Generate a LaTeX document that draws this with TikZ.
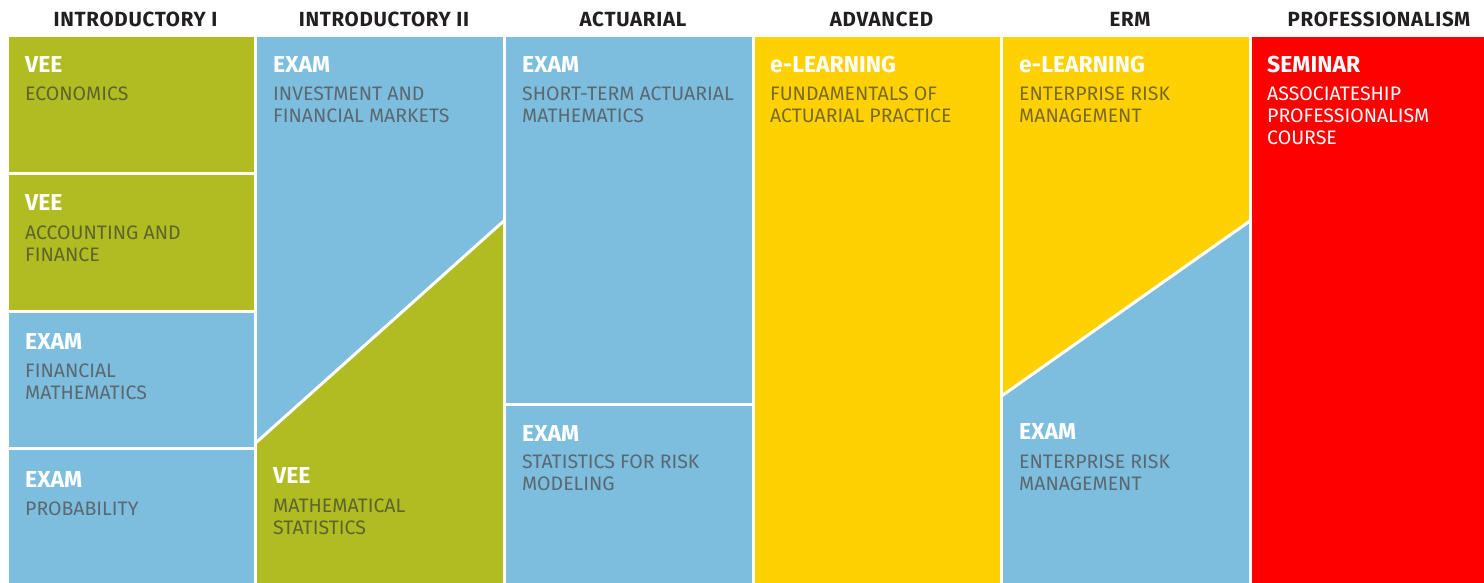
\documentclass[tikz,border=0pt]{standalone}
\usepackage{fontspec}
\setmainfont{Fira Sans}
\definecolor{cgreen}{HTML}{B0BC22}
\definecolor{cblue}{HTML}{7DBDDE}
\definecolor{cyellow}{HTML}{FFD100}
\definecolor{cred}{HTML}{FF0000}
\definecolor{chead}{HTML}{231F20}
\definecolor{subblue}{HTML}{5A6870}
\definecolor{subyellow}{HTML}{7A6A2A}
\definecolor{subgreen}{HTML}{5E642C}
\newcommand\twol[2]{\vtop{\hbox{#1}\hbox{#2}}}
\newcommand\threel[3]{\vtop{\hbox{#1}\hbox{#2}\hbox{#3}}}
\tikzset{
  hdr/.style={font=\fontsize{20.5}{22}\selectfont\bfseries\addfontfeature{LetterSpace=3.5}, text=chead, anchor=base, inner sep=0pt},
  ttl/.style={font=\fontsize{23}{26}\selectfont\bfseries, text=white, anchor=base west, inner sep=0pt},
  sub/.style={font=\fontsize{19.5}{22}\selectfont, anchor=base west, inner sep=0pt},
  sb/.style={sub, text=subblue},
  sy/.style={sub, text=subyellow},
  sg/.style={sub, text=subgreen},
  sr/.style={sub, text=white},
  cut/.style={draw=white, line width=3pt},
}
\begin{document}
\begin{tikzpicture}[x=1pt,y=-1pt]
\useasboundingbox (0,0) rectangle (1484,583);
% headers
\node[hdr] (h1) at (135.5,26.5) {INTRODUCTORY I};
\node[hdr] (h2) at (384,26.5) {INTRODUCTORY II};
\node[hdr] (h3) at (633,26.5) {ACTUARIAL};
\node[hdr] (h4) at (881.5,26.5) {ADVANCED};
\node[hdr] (h5) at (1130,26.5) {ERM};
\node[hdr] (h6) at (1379,26.5) {PROFESSIONALISM};
% column 1
\fill[cgreen] (9,37) rectangle (254,172);
\fill[cgreen] (9,175) rectangle (254,309.5);
\fill[cblue] (9,312.5) rectangle (254,447);
\fill[cblue] (9,450) rectangle (254,583);
% column 2
\fill[cblue] (257,37) rectangle (503,583);
\fill[cgreen] (257,441.7) -- (503,221.7) -- (503,583) -- (257,583) -- cycle;
\draw[cut] (256,442.6) -- (503.5,221.2);
% column 3
\fill[cblue] (506,37) rectangle (752,402.5);
\fill[cblue] (506,405.5) rectangle (752,583);
% column 4
\fill[cyellow] (755,37) rectangle (1000,583);
% column 5
\fill[cyellow] (1003,37) rectangle (1249,583);
\fill[cblue] (1003,395) -- (1249,221.7) -- (1249,583) -- (1003,583) -- cycle;
\draw[cut] (1002,395.7) -- (1249.5,221.3);
% column 6
\fill[cred] (1252,37) rectangle (1484,583);

% texts column 1
\node[ttl] (t11) at (25,73) {VEE};
\node[sg] (s11) at (25,101) {ECONOMICS};
\node[ttl] (t12) at (25,211) {VEE};
\node[sg] (s12) at (25,239) {\twol{ACCOUNTING AND}{FINANCE}};
\node[ttl] (t13) at (25,349) {EXAM};
\node[sb] (s13) at (25,377) {\twol{FINANCIAL}{MATHEMATICS}};
\node[ttl] (t14) at (25,487) {EXAM};
\node[sb] (s14) at (25,515) {PROBABILITY};
% column 2
\node[ttl] (t21) at (273,73) {EXAM};
\node[sb] (s21) at (273,101) {\twol{INVESTMENT AND}{FINANCIAL MARKETS}};
\node[ttl] (t22) at (273,483.5) {VEE};
\node[sg] (s22) at (273,512.7) {\twol{MATHEMATICAL}{STATISTICS}};
% column 3
\node[ttl] (t31) at (522,73) {EXAM};
\node[sb] (s31) at (522,101) {\twol{SHORT-TERM ACTUARIAL}{MATHEMATICS}};
\node[ttl] (t32) at (522,441) {EXAM};
\node[sb] (s32) at (522,468.5) {\twol{STATISTICS FOR RISK}{MODELING}};
% column 4
\node[ttl] (t41) at (770,73) {e-LEARNING};
\node[sy] (s41) at (770,101) {\twol{FUNDAMENTALS OF}{ACTUARIAL PRACTICE}};
% column 5
\node[ttl] (t51) at (1019,73) {e-LEARNING};
\node[sy] (s51) at (1019,101) {\twol{ENTERPRISE RISK}{MANAGEMENT}};
\node[ttl] (t52) at (1019,439.5) {EXAM};
\node[sb] (s52) at (1019,468) {\twol{ENTERPRISE RISK}{MANAGEMENT}};
% column 6
\node[ttl] (t61) at (1267,73) {SEMINAR};
\node[sr] (s61) at (1267,101) {\threel{ASSOCIATESHIP}{PROFESSIONALISM}{COURSE}};
\end{tikzpicture}
\end{document}
